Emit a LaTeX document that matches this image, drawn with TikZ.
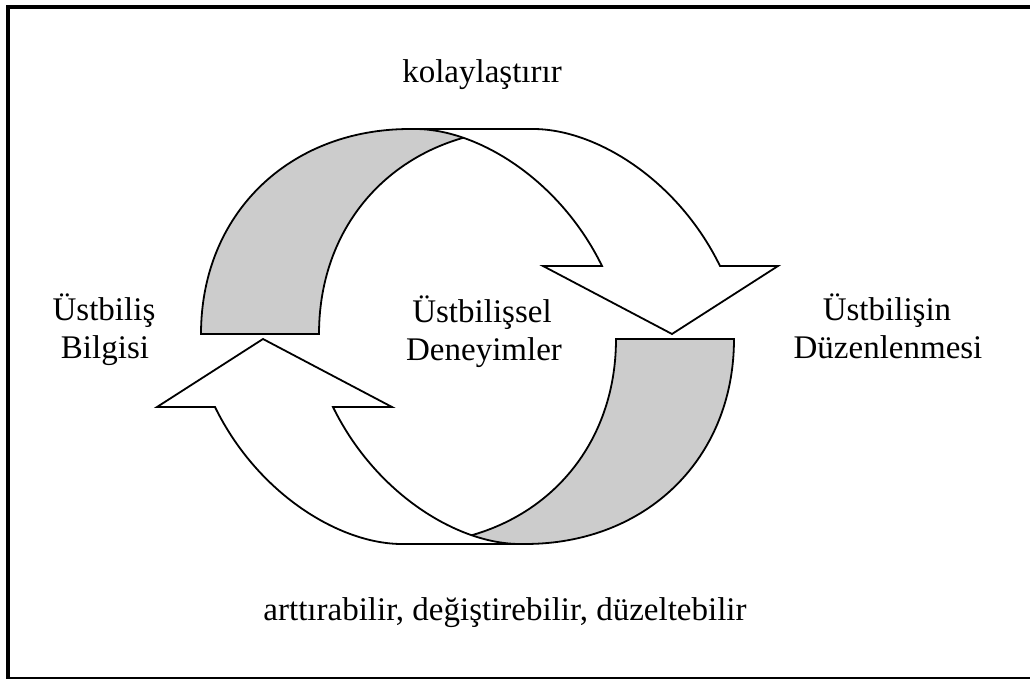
\documentclass[tikz,border=0pt]{standalone}
\usepackage{fontspec}
\setmainfont{Liberation Serif}
\definecolor{bandgray}{RGB}{204,204,204}
\tikzset{
  outline/.style={line width=1.8pt, black, line join=miter},
  lbl/.style={anchor=base, inner sep=0pt, font=\fontsize{33}{38}\selectfont},
  frame/.style={line width=4pt, black}
}
% One curved band arrow: shaded back face on the left, white front face
% bending over the top and ending in a downward arrow head.
\newcommand\ribbonarrow{%
  \begin{scope}
    \clip (415,129) .. controls (478,129) and (560,180) .. (602,266)
          -- (602,420) -- (150,420) -- (150,100) -- (415,100) -- cycle;
    \fill[bandgray] (201,334) .. controls (201,214) and (289,129) .. (410,129)
          -- (528,129) .. controls (407,129) and (319,214) .. (319,334) -- cycle;
    \draw[outline] (255,334) -- (319,334) .. controls (319,214) and (407,129) .. (528,129);
  \end{scope}
  \draw[outline] (262,334) -- (201,334)
        .. controls (201,214) and (289,129) .. (410,129) -- (533,129)
        .. controls (596,129) and (678,180) .. (720,266)
        -- (778,266) -- (672,334) -- (543,266) -- (602,266)
        .. controls (560,180) and (478,129) .. (415,129);
}
\begin{document}
\begin{tikzpicture}[x=1pt,y=-1pt]
  \useasboundingbox (0,0) rectangle (1030,679);
  \clip (0,0) rectangle (1030,679);
  \draw[frame] (1040,7) -- (8,7) -- (8,679) -- (1040,679);

  % upper arrow and its point-symmetric copy below
  \ribbonarrow
  \begin{scope}[shift={(935,673)}, rotate=180]
    \ribbonarrow
  \end{scope}

  \node[lbl] (kol) at (482,83) {kolaylaştırır};
  \node[lbl] (bil1) at (104,320) {Üstbiliş};
  \node[lbl] (bil2) at (105,358) {Bilgisi};
  \node[lbl] (den1) at (482,322) {Üstbilişsel};
  \node[lbl] (den2) at (484,360) {Deneyimler};
  \node[lbl] (duz1) at (887,320) {Üstbilişin};
  \node[lbl] (duz2) at (888,358) {Düzenlenmesi};
  \node[lbl] (art) at (505,620) {arttırabilir, değiştirebilir, düzeltebilir};
\end{tikzpicture}
\end{document}
